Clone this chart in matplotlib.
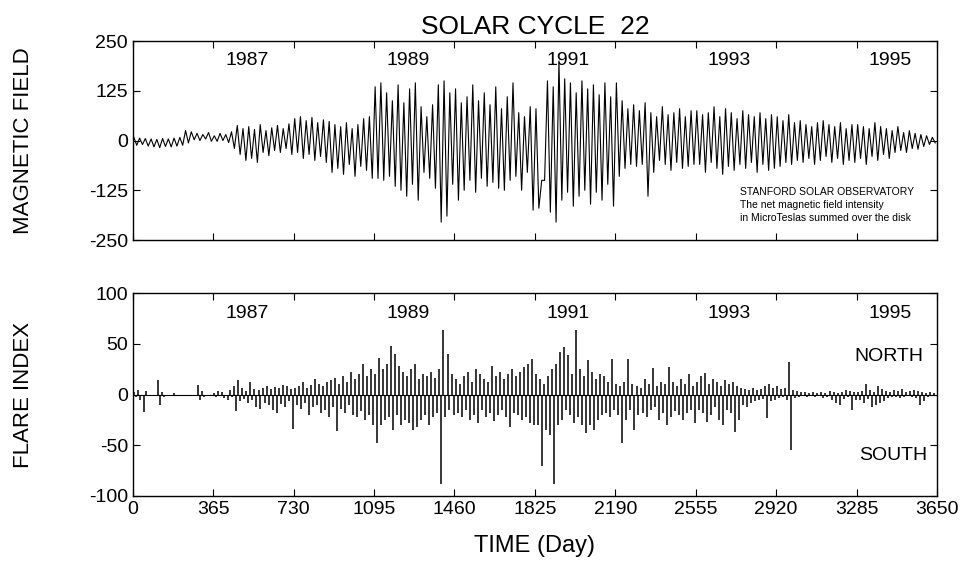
import numpy as np
import matplotlib
matplotlib.use("Agg")
import matplotlib.pyplot as plt

plt.rcParams["font.family"] = "Liberation Sans"
plt.rcParams["axes.unicode_minus"] = False

# net magnetic field (microtesla), 28 readings per year, 1986-1995
mag_field = [
    8, -12, 6, -10, 5, -14, 4, -16, 3, -18, 5, -15, 4, -16, 6, -14, 8, -12, 25, -6, 22, 2, 18, 0, 15, 4, 20, -2,
    12, -2, 18, 0, 15, -5, 22, -20, 38, -35, 30, -50, 35, -45, 28, -55, 40, -30, 25, -38, 32, -25, 38, -30, 30, -20, 42, -35,
    55, -30, 60, -45, 50, -35, 58, -50, 45, -40, 52, -55, 48, -80, 40, -70, 35, -85, 45, -60, 30, -90, 40, -65, 55, -75, 60, -95,
    135, -95, 145, -100, 120, -90, 100, -115, 140, -125, 95, -140, 130, -110, 145, -150, 85, -80, 60, -95, 90, -120, 140, -205, 150, -190, 120, -110,
    130, -150, 95, -125, 110, -100, 140, -130, 100, -95, 120, -115, 90, -105, 135, -120, 80, -125, 110, -100, 145, -90, 70, -125, 60, -80, 85, -175,
    80, -170, -100, -100, 150, -180, 135, -205, 200, -150, 155, -130, 145, -165, 120, -140, 150, -125, 130, -160, 140, -130, 115, -150, 145, -110, 110, -165,
    145, -90, 100, -70, 80, -60, 90, -65, 75, -60, 95, -140, 70, -80, 60, -50, 85, -60, 65, -75, 70, -55, 80, -70, 60, -65, 75, -60,
    75, -60, 65, -80, 70, -55, 85, -70, 60, -85, 80, -65, 70, -75, 55, -60, 75, -70, 65, -55, 60, -80, 70, -60, 55, -75, 65, -70,
    60, -65, 50, -55, 65, -60, 45, -50, 50, -55, 40, -45, 35, -60, 45, -50, 50, -40, 40, -55, 35, -45, 45, -60, 30, -50, 40, -55,
    40, -45, 35, -60, 30, -40, 45, -50, 35, -35, 30, -45, 25, -30, 35, -25, 20, -30, 25, -20, 18, -22, 15, -15, 12, -10, 8, -6,
]

# flare index, 20 readings per year
flare_north = [
    2, 4, 0, 3, 0, 0, 14, 2, 0, 0, 1, 0, 0, 0, 0, 0, 9, 3, 0, 0,
    1, 3, 2, 0, 4, 8, 14, 6, 3, 12, 5, 4, 6, 8, 5, 7, 6, 9, 8, 5,
    6, 8, 12, 6, 9, 15, 10, 8, 12, 14, 16, 10, 18, 12, 22, 15, 20, 30, 18, 25,
    20, 36, 25, 30, 48, 40, 28, 22, 18, 25, 30, 15, 20, 18, 22, 16, 25, 64, 40, 20,
    15, 10, 18, 22, 12, 25, 20, 15, 12, 28, 18, 22, 15, 20, 25, 18, 22, 27, 30, 35,
    20, 15, 10, 18, 25, 30, 42, 47, 39, 20, 64, 25, 18, 34, 22, 15, 20, 18, 12, 35,
    10, 8, 12, 35, 10, 8, 6, 15, 10, 26, 8, 12, 10, 27, 12, 8, 15, 10, 20, 8,
    12, 18, 21, 10, 15, 12, 8, 14, 10, 12, 8, 6, 5, 4, 6, 4, 5, 8, 10, 6,
    8, 5, 6, 32, 4, 3, 2, 2, 1, 2, 1, 2, 1, 3, 2, 1, 2, 4, 3, 2,
    2, 3, 10, 4, 2, 8, 5, 3, 2, 4, 3, 5, 2, 3, 4, 3, 2, 1, 2, 1,
]
flare_south = [
    2, 5, 17, 0, 0, 0, 10, 2, 0, 0, 0, 0, 0, 0, 0, 0, 5, 2, 0, 0,
    2, 0, 3, 5, 2, 16, 6, 4, 8, 5, 12, 14, 8, 10, 15, 18, 9, 12, 6, 34,
    10, 14, 8, 20, 12, 10, 18, 15, 22, 12, 36, 14, 18, 10, 20, 22, 16, 25, 20, 30,
    48, 30, 25, 22, 35, 20, 30, 25, 28, 35, 32, 25, 20, 30, 22, 18, 88, 22, 15, 20,
    18, 22, 15, 25, 20, 28, 15, 22, 18, 26, 20, 15, 22, 32, 18, 20, 25, 22, 28, 30,
    30, 70, 35, 40, 88, 30, 25, 15, 20, 28, 22, 30, 38, 30, 35, 25, 20, 18, 22, 15,
    20, 48, 25, 15, 35, 20, 18, 22, 15, 12, 25, 18, 30, 22, 16, 20, 25, 18, 15, 28,
    15, 18, 27, 20, 12, 25, 30, 15, 18, 37, 25, 10, 12, 8, 6, 5, 4, 23, 6, 5,
    3, 2, 5, 55, 3, 2, 1, 2, 1, 2, 1, 3, 2, 5, 8, 10, 4, 2, 15, 5,
    5, 8, 4, 12, 10, 8, 6, 3, 2, 2, 3, 2, 1, 2, 3, 10, 6, 2, 1, 1,
]

years = ["1987", "1989", "1991", "1993", "1995"]
year_days = [518, 1248, 1978, 2708, 3438]
day_ticks = list(range(0, 3651, 365))

mag_days = np.arange(len(mag_field)) * 365 / 28 + 5
north_days = np.arange(len(flare_north)) * 365 / 20 + 5
south_days = np.arange(len(flare_south)) * 365 / 20 + 14

fig = plt.figure(figsize=(9.62, 5.75), dpi=100)
ax1 = fig.add_axes([0.138, 0.5826, 0.836, 0.346])
ax2 = fig.add_axes([0.138, 0.1374, 0.836, 0.353])

ax1.plot(mag_days, mag_field, color="black", lw=0.8)
ax1.set_ylim(-250, 250)
ax1.set_yticks([-250, -125, 0, 125, 250])
ax1.set_xticklabels([])
ax1.set_title("SOLAR CYCLE  22", fontsize=19, pad=5)
ax1.text(2755, -118, "STANFORD SOLAR OBSERVATORY\nThe net magnetic field intensity\nin MicroTeslas summed over the disk",
         fontsize=7.5, va="top", ha="left", linespacing=1.35)

north = np.array(flare_north)
south = -np.array(flare_south)
ax2.vlines(north_days, 0, north, color="black", lw=1.1)
ax2.vlines(south_days, 0, south, color="black", lw=1.1)
ax2.axhline(0, color="black", lw=0.8)
ax2.set_ylim(-100, 100)
ax2.set_yticks([-100, -50, 0, 50, 100])
ax2.text(3432, 37, "NORTH", fontsize=14, ha="center", va="center")
ax2.text(3450, -60, "SOUTH", fontsize=14, ha="center", va="center")
ax2.set_xlabel("TIME (Day)", fontsize=17, labelpad=12)

for ax in (ax1, ax2):
    ax.set_xlim(0, 3650)
    ax.set_xticks(day_ticks)
    ax.tick_params(direction="in", top=True, right=True, length=5, labelsize=14)
    for sp in ax.spines.values():
        sp.set_linewidth(1.0)
    for lab, d in zip(years, year_days):
        ax.text(d, 0.9, lab, transform=ax.get_xaxis_transform(), fontsize=14, ha="center", va="center")

fig.text(0.024, 0.756, "MAGNETIC FIELD", rotation=90, fontsize=16, ha="center", va="center")
fig.text(0.024, 0.313, "FLARE INDEX", rotation=90, fontsize=16, ha="center", va="center")

fig.savefig("out.png", dpi=100)
